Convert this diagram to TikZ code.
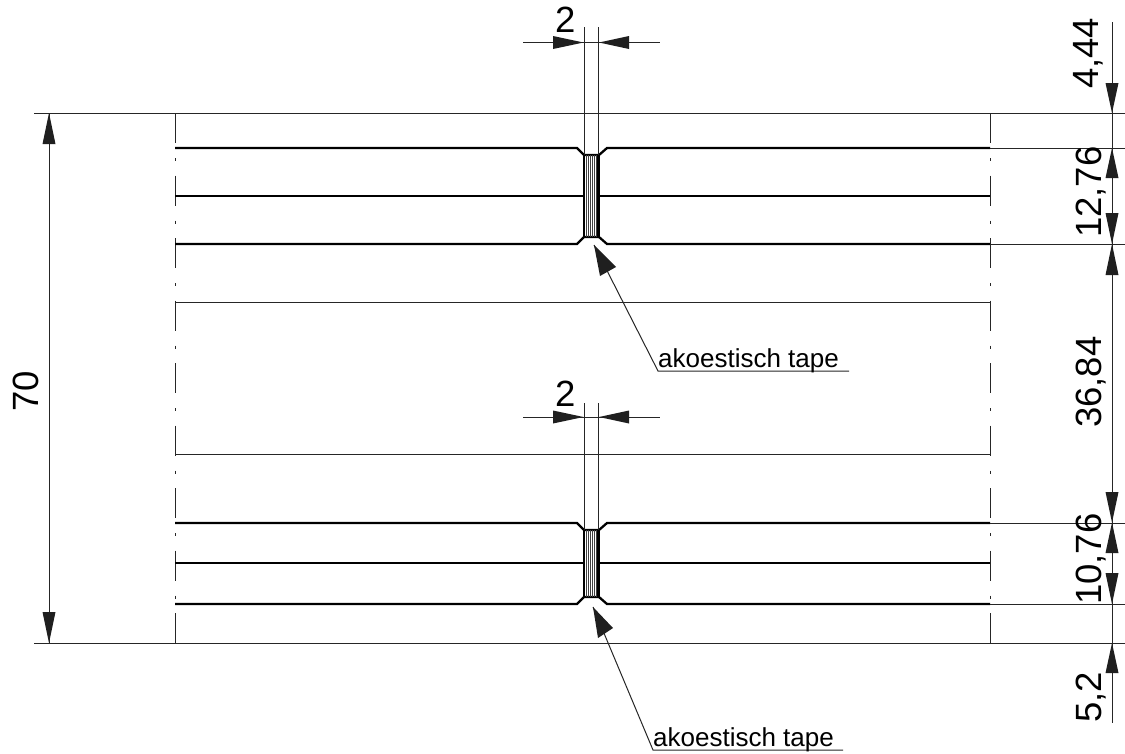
\documentclass[tikz,border=0pt]{standalone}
\usepackage{fontspec}
\setmainfont{Liberation Sans}
\newcommand{\bigtxt}{\fontsize{36.5}{36.5}\selectfont}
\newcommand{\smalltxt}{\fontsize{26}{26}\selectfont}
% vertical arrow: x, tip y, base y
\newcommand{\varr}[3]{\fill[headfill] (#1,#2) -- (#1-6.5,#3) -- (#1+6.5,#3) -- cycle;}
% horizontal arrow: y, tip x, base x
\newcommand{\harr}[3]{\fill[headfill] (#2,#1) -- (#3,#1-6.5) -- (#3,#1+6.5) -- cycle;}
\colorlet{inkline}{black!85}
\tikzset{
  thin line/.style={draw=inkline,line width=1pt},
  thick line/.style={draw=black,line width=2.3pt},
  centre line/.style={draw=black!85,line width=1pt,dash pattern=on 30pt off 15pt on 3pt off 14.5pt},
  headfill/.style={fill=black!88},
  hatch line/.style={draw=black!75,line width=0.8pt},
  bigdim/.style={inner sep=0pt,font=\bigtxt,anchor=base west},
  vdim/.style={bigdim,rotate=90},
  tapelabel/.style={inner sep=0pt,font=\smalltxt,anchor=base west}
}
\newcommand{\tapejoint}[3]{% top y, mid y, bottom y
  \draw[thick line] (175,#1) -- (577,#1) -- (584,#1+7) -- (599,#1+7) -- (607,#1) -- (990,#1);
  \draw[thick line] (175,#2) -- (584,#2);
  \draw[thick line] (599,#2) -- (990,#2);
  \draw[thick line] (175,#3) -- (577,#3) -- (584,#3-7) -- (599,#3-7) -- (607,#3) -- (990,#3);
  \foreach \hx in {586.5,588.5,590.5,592.5,594.5,596.5}
    \draw[hatch line] (\hx,#1+7) -- (\hx,#3-7);
  \draw[thick line] (584,#1+7) -- (584,#3-7);
  \draw[thick line] (598.5,#1+7) -- (598.5,#3-7);
  \draw[thin line] (990,#1) -- (1125,#1);
  \draw[thin line] (990,#3) -- (1125,#3);
}
\newcommand{\widthdim}[3]{% line y, extension top, extension bottom
  \draw[thin line] (584,#2) -- (584,#3);
  \draw[thin line] (598.5,#2) -- (598.5,#3);
  \draw[thin line] (523,#1) -- (660,#1);
  \harr{#1}{583.5}{553}
  \harr{#1}{599}{629}
}
\begin{document}
\begin{tikzpicture}[x=1pt,y=-1pt]
\useasboundingbox (0,0) rectangle (1125,753);
% outer lines
\draw[thin line] (34,113) -- (1125,113);
\draw[thin line] (34,643) -- (1125,643);
\draw[centre line] (175,113) -- (175,643);
\draw[centre line] (990,113) -- (990,643);
\draw[thin line] (175,302.4) -- (990,302.4);
\draw[thin line] (175,454.4) -- (990,454.4);
% joints
\tapejoint{148}{196}{244}
\tapejoint{523}{563}{604}
% width dimensions
\widthdim{42.5}{27}{155}
\widthdim{417}{403}{530}
\node[bigdim] (twoa) at (555,32) {2};
\node[bigdim] (twob) at (555,406) {2};
% overall dimension
\draw[thin line] (49,113) -- (49,643);
\varr{49}{113}{144}
\varr{49}{643}{612}
\node[vdim] (seventy) at (38,412) {70};
% right chain
\draw[thin line] (1112,22) -- (1112,723);
\varr{1112}{113}{83}
\varr{1112}{148}{178}
\varr{1112}{244}{213}
\varr{1112}{244}{275}
\varr{1112}{522.5}{492}
\varr{1112}{522.5}{553}
\varr{1112}{604}{573}
\varr{1112}{643}{673}
\node[vdim] (da) at (1098,89) {4,44};
\node[vdim] (db) at (1101,238) {12,76};
\node[vdim] (dc) at (1101,428) {36,84};
\node[vdim] (dd) at (1101,605) {10,76};
\node[vdim] (de) at (1101,723) {5,2};
% leaders
\coordinate (tipa) at (594,245);
\coordinate (kneea) at (658,371);
\coordinate (enda) at (849,371);
\coordinate (tipb) at (593,607);
\coordinate (kneeb) at (653,750);
\coordinate (endb) at (843,750);
\draw[thin line] (tipa) -- (kneea) -- (enda);
\draw[thin line] (tipb) -- (kneeb) -- (endb);
\fill[headfill] (tipa) -- (600,276) -- (616,267) -- cycle;
\fill[headfill] (tipb) -- (598,638) -- (613,628) -- cycle;
\node[tapelabel] (la) at (658,367) {akoestisch tape};
\node[tapelabel] (lb) at (653,746) {akoestisch tape};
\end{tikzpicture}
\end{document}
